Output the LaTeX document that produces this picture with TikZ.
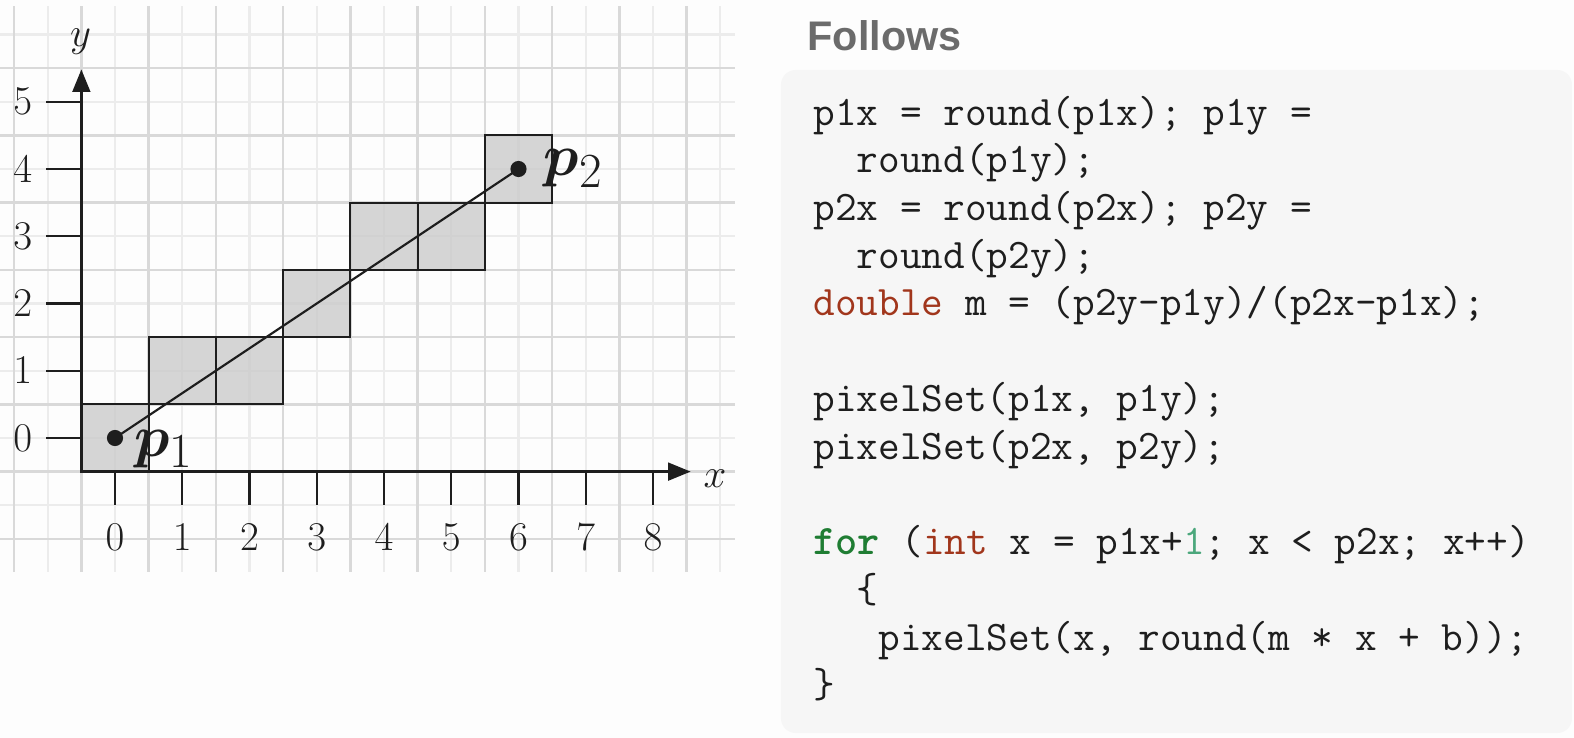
\documentclass[tikz,border=0pt]{standalone}
\usepackage{amsmath,amssymb}
\usepackage{bm}
\usepackage{fontspec}
\newfontfamily\titlefont{Liberation Sans}
\usepackage{tikz}
\usetikzlibrary{arrows.meta}

\definecolor{pagebg}{HTML}{FDFDFD}
\definecolor{codebg}{HTML}{F6F6F6}
\definecolor{gridmajor}{HTML}{D9D9D9}
\definecolor{gridminor}{HTML}{ECECEC}
\definecolor{pixfill}{HTML}{C8C8C8}
\definecolor{inkdark}{HTML}{1E1E1E}
\definecolor{titlegray}{HTML}{6B6B6B}
\definecolor{kwred}{HTML}{A1361C}
\definecolor{kwgreen}{HTML}{1F7D33}
\definecolor{numgreen}{HTML}{4BA77C}

\tikzset{
  pixbox/.style={draw=inkdark, line width=0.8pt, fill=pixfill, fill opacity=0.75},
  axisline/.style={draw=inkdark, line width=1pt, -{Triangle[length=9.5pt,width=7.5pt]}},
  tickline/.style={draw=inkdark, line width=1pt},
  ticklabel/.style={inner sep=0pt, text=inkdark, font=\fontsize{17.5}{20}\selectfont},
  ptlabel/.style={inner sep=0pt, anchor=base west, text=inkdark, font=\fontsize{30.5}{36}\selectfont},
  codeline/.style={inner sep=0pt, anchor=base west, text=inkdark, font=\fontsize{17.8}{20}\selectfont\ttfamily}
}
\newcommand{\kwd}[1]{\textcolor{kwred}{#1}}

\begin{document}
\begin{tikzpicture}
    % Page and bounding box
    \fill[pagebg] (-1.710,-4.461) rectangle (21.695,6.513);
    \useasboundingbox (-1.710,-4.461) rectangle (21.695,6.513);
    % Background grid
    \foreach \gx in {-1,...,9}
      \draw[gridminor, line width=0.9pt] (\gx,-1.99) -- (\gx,6.42);
    \foreach \gy in {-1,...,6}
      \draw[gridminor, line width=0.9pt] (-1.71,\gy) -- (9.22,\gy);
    \foreach \gx in {-2,...,8}
      \draw[gridmajor, line width=1.1pt] (\gx+0.5,-1.99) -- (\gx+0.5,6.42);
    \foreach \gy in {-2,...,5}
      \draw[gridmajor, line width=1.1pt] (-1.71,\gy+0.5) -- (9.22,\gy+0.5);
    %
    % Rasterised pixels
    \foreach \px/\py in {0/0, 1/1, 2/1, 3/2, 4/3, 5/3, 6/4}
      \draw[pixbox] (\px-0.5,\py-0.5) rectangle (\px+0.5,\py+0.5);
    %
    % Axes
    \coordinate (origin) at (-0.5,-0.5);
    \coordinate (xend) at (8.56,-0.5);
    \coordinate (yend) at (-0.5,5.48);
    \draw[axisline] (origin) -- (xend);
    \draw[axisline] (origin) -- (yend);
    \node[ticklabel, font=\fontsize{18}{20}\selectfont] (xlab) at (8.92,-0.60) {$x$};
    \node[ticklabel, font=\fontsize{18}{20}\selectfont] (ylab) at (-0.51,5.90) {$y$};
    % Ticks
    \foreach \i in {0,...,8} {
      \draw[tickline] (\i,-0.5) -- (\i,-1.0);
      \node[ticklabel] (xt\i) at (\i,-1.47) {$\i$};
    }
    \foreach \j in {0,...,5} {
      \draw[tickline] (-1.02,\j) -- (-0.5,\j);
      \node[ticklabel] (yt\j) at (-1.37,\j) {$\j$};
    }
    %
    % Line segment p1 -> p2
    \coordinate (p1) at (0,0);
    \coordinate (p2) at (6,4);
    \draw[inkdark, line width=0.9pt] (p1) -- (p2);
    \fill[inkdark] (p1) circle (0.12);
    \fill[inkdark] (p2) circle (0.12);
    \node[ptlabel] (lp1) at (0.28,-0.27) {$\bm{p}_1$};
    \node[ptlabel] (lp2) at (6.37,3.90) {$\bm{p}_2$};
    %
    % Code panel
    \node[inner sep=0pt, anchor=west, text=titlegray, font=\fontsize{17.5}{20}\titlefont\bfseries] (title) at (10.29,5.978) {Follows};
    \fill[codebg, rounded corners=0.22cm] (9.903,-4.387) rectangle (21.665,5.472);
    \node[codeline] (c1)  at (10.379,4.654)  {p1x = round(p1x); p1y =};
    \node[codeline] (c2)  at (10.379,3.944)  {\phantom{xx}round(p1y);};
    \node[codeline] (c3)  at (10.379,3.234)  {p2x = round(p2x); p2y =};
    \node[codeline] (c4)  at (10.379,2.524)  {\phantom{xx}round(p2y);};
    \node[codeline] (c5)  at (10.379,1.814)  {\kwd{double} m = (p2y-p1y)/(p2x-p1x);};
    \node[codeline] (c7)  at (10.379,0.394)  {pixelSet(p1x, p1y);};
    \node[codeline] (c8)  at (10.379,-0.316) {pixelSet(p2x, p2y);};
    \node[codeline] (c10) at (10.379,-1.736) {\textcolor{kwgreen}{\bfseries for} (\kwd{int} x = p1x+\textcolor{numgreen}{1}; x < p2x; x++)};
    \node[codeline] (c11) at (10.379,-2.446) {\phantom{xx}\{};
    \node[codeline] (c12) at (10.379,-3.156) {\phantom{xxx}pixelSet(x, round(m * x + b));};
    \node[codeline] (c13) at (10.379,-3.866) {\}};
\end{tikzpicture}
\end{document}
